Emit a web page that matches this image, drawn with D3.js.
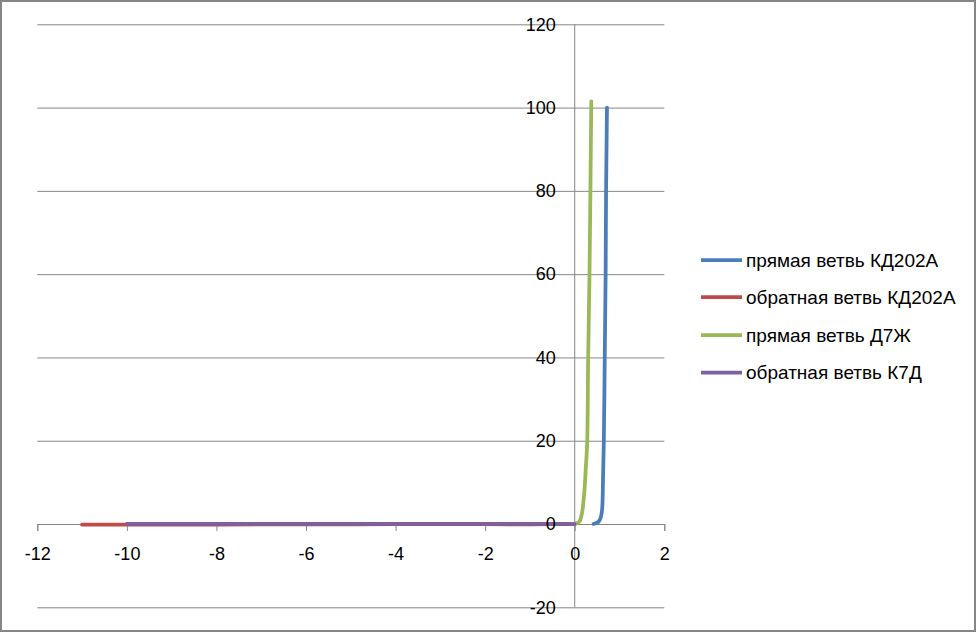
<!DOCTYPE html>
<html><head><meta charset="utf-8">
<script src="https://cdn.jsdelivr.net/npm/d3@7"></script>
<style>body{margin:0;background:#fff;} text{font-family:"Liberation Sans",Arial,sans-serif;}</style>
</head><body><svg id="c" width="976" height="632"></svg>
<script>
const seriesNames = ["прямая ветвь КД202А","обратная ветвь КД202А","прямая ветвь Д7Ж","обратная ветвь К7Д"];
const seriesColors = ["#4A7EBB","#BE4B48","#98B954","#7D60A0"];
const kdForwardV = [0.42,0.5,0.56,0.6,0.62,0.63,0.65,0.67,0.69,0.70,0.72];
const kdForwardI = [0,0.3,1,2.5,5,10,20,40,60,80,100];
const kdReverseV = [-11,-10,-9,-8,-7,-6,-5,-4,-3,-2,-1,-0.5,0];
const kdReverseI = [-0.15,-0.15,-0.14,-0.12,-0.1,-0.08,-0.06,-0.05,-0.04,-0.03,-0.1,-0.05,0];
const d7ForwardV = [0,0.1,0.15,0.2,0.25,0.28,0.3,0.33,0.35,0.37];
const d7ForwardI = [0,0.5,2,6,14,20,40,60,80,101.5];
const k7ReverseV = [-10,-9,-8,-7,-6,-5,-4,-3,-2,-1,-0.5,0];
const k7ReverseI = [0.05,0.05,0.05,0.05,0.05,0.05,0.05,0.05,0.05,0.05,0.05,0];
const xTicks = [-12,-10,-8,-6,-4,-2,0,2];
const yTicks = [-20,0,20,40,60,80,100,120];

const svg = d3.select("#c");
const x = d3.scaleLinear().domain([-12,2]).range([37.3,664.3]);
const y = d3.scaleLinear().domain([-20,120]).range([607.3,24.3]);
const gridColor = "#868686";
const fmt = d => String(d);

svg.append("rect").attr("x",1).attr("y",1).attr("width",974).attr("height",630)
  .attr("fill","#fff").attr("stroke",gridColor).attr("stroke-width",2);

// gridlines
const grid = svg.append("g").attr("transform",`translate(${x(-12)},0)`)
  .call(d3.axisLeft(y).tickValues(yTicks).tickSize(-(x(2)-x(-12))).tickFormat(""));
grid.select(".domain").remove();
grid.selectAll("line").attr("stroke",gridColor).attr("stroke-width",1);

// y axis line at x=0
svg.append("line").attr("x1",x(0)).attr("x2",x(0)).attr("y1",y(120)).attr("y2",y(-20))
  .attr("stroke",gridColor).attr("stroke-width",1);

// x axis
const xa = svg.append("g").attr("transform",`translate(0,${y(0)})`)
  .call(d3.axisBottom(x).tickValues(xTicks).tickSize(7).tickPadding(16).tickFormat(fmt));
xa.select(".domain").attr("stroke",gridColor);
xa.selectAll("line").attr("stroke",gridColor);
xa.selectAll("text").attr("font-size",18).attr("fill","#000").attr("font-family","Liberation Sans");

const series = [
  {v:kdForwardV, i:kdForwardI},
  {v:kdReverseV, i:kdReverseI},
  {v:d7ForwardV, i:d7ForwardI},
  {v:k7ReverseV, i:k7ReverseI}
];
const line = d3.line().x(d=>x(d[0])).y(d=>y(d[1])).curve(d3.curveMonotoneY);
const lineX = d3.line().x(d=>x(d[0])).y(d=>y(d[1])).curve(d3.curveLinear);
series.forEach((s,k)=>{
  const pts = s.v.map((v,j)=>[v,s.i[j]]);
  svg.append("path").attr("d",(k===0||k===2)?line(pts):lineX(pts)).attr("fill","none")
    .attr("stroke",seriesColors[k]).attr("stroke-width",3.75)
    .attr("stroke-linejoin","round").attr("stroke-linecap","round");
});

// y labels
const ya = svg.append("g").attr("transform",`translate(${x(0)},0)`)
  .call(d3.axisLeft(y).tickValues(yTicks).tickSize(0).tickPadding(19).tickFormat(fmt));
ya.select(".domain").remove();
ya.selectAll("text").attr("font-size",18).attr("fill","#000").attr("font-family","Liberation Sans");

// legend
const legY = [260,297,335,372.5];
const leg = svg.append("g");
seriesNames.forEach((n,k)=>{
  leg.append("line").attr("x1",701).attr("x2",742).attr("y1",legY[k]).attr("y2",legY[k])
    .attr("stroke",seriesColors[k]).attr("stroke-width",3.75);
  leg.append("text").attr("x",746).attr("y",legY[k]).attr("dy","0.35em")
    .attr("font-size",19).attr("fill","#000").text(n);
});
</script></body></html>
